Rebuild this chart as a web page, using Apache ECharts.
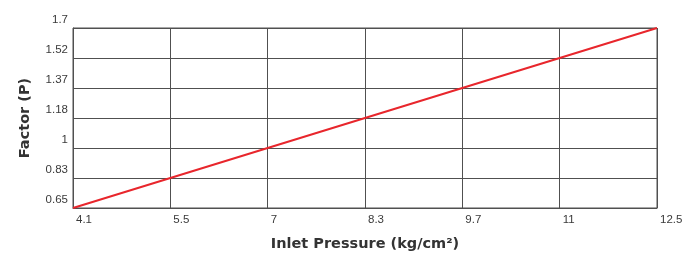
<!DOCTYPE html>
<html>
<head>
<meta charset="utf-8">
<script src="https://cdn.jsdelivr.net/npm/echarts@6/dist/echarts.min.js"></script>
<style>html,body{margin:0;padding:0;background:#fff}#c{width:700px;height:253px}</style>
</head>
<body>
<div id="c"></div>
<script>
var xLabels = ['4.1', '5.5', '7', '8.3', '9.7', '11', '12.5'];
var yLabels = ['0.65', '0.83', '1', '1.18', '1.37', '1.52', '1.7'];
var factorValues = [0.65, 0.83, 1, 1.18, 1.37, 1.52, 1.7];
var xTitle = 'Inlet Pressure (kg/cm²)';
var yTitle = 'Factor (P)';

var chart = echarts.init(document.getElementById('c'), null, {renderer: 'canvas'});
var gridColor = '#505050';
var titleStyle = {fontFamily: 'DejaVu Sans', fontWeight: 'bold', fontSize: 14.5, color: '#333'};
var tickStyle = {fontFamily: 'Liberation Sans', fontSize: 11.5, color: '#3a3a3a'};
chart.setOption({
  animation: false,
  backgroundColor: '#fff',
  grid: {left: 73, right: 43, top: 28, bottom: 45, outerBoundsMode: 'none', containLabel: false, show: true, borderColor: gridColor, borderWidth: 1},
  xAxis: {
    type: 'category', data: xLabels, boundaryGap: false,
    name: xTitle, nameLocation: 'middle', nameGap: 29,
    nameTextStyle: titleStyle,
    axisLine: {lineStyle: {color: gridColor, width: 1}},
    axisTick: {show: false},
    axisLabel: Object.assign({interval: 0, align: 'left', margin: 6, padding: [0, 0, 0, 3]}, tickStyle),
    splitLine: {show: true, lineStyle: {color: gridColor, width: 1}}
  },
  yAxis: {
    type: 'category', data: yLabels, boundaryGap: false,
    name: yTitle, nameLocation: 'middle', nameGap: 40, nameRotate: 90,
    nameTextStyle: titleStyle,
    axisLine: {lineStyle: {color: gridColor, width: 1}},
    axisTick: {show: false},
    axisLabel: Object.assign({interval: 0, margin: 5, verticalAlign: 'bottom', padding: [0, 0, 2, 0]}, tickStyle),
    splitLine: {show: true, lineStyle: {color: gridColor, width: 1}}
  },
  series: [{
    type: 'line',
    data: xLabels.map(function (x, i) { return [x, String(factorValues[i])]; }),
    symbol: 'none',
    lineStyle: {color: '#e8262c', width: 2},
    silent: true
  }]
});
</script>
</body>
</html>
